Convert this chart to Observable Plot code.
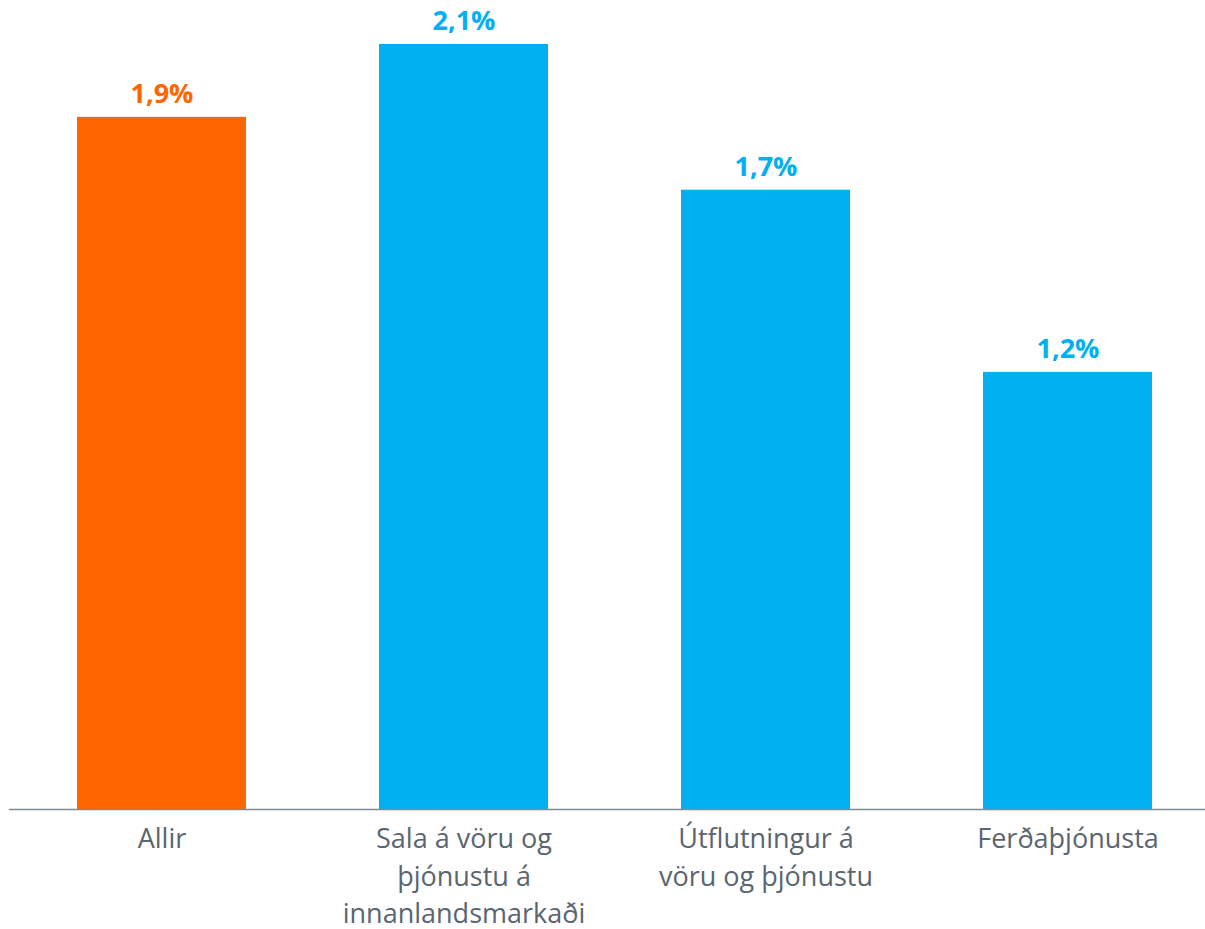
<!DOCTYPE html>
<html><head><meta charset="utf-8">
<script src="https://cdn.jsdelivr.net/npm/d3@7"></script>
<script src="https://cdn.jsdelivr.net/npm/@observablehq/plot@0.6"></script>
<style>body{margin:0;background:#fff}</style>
</head><body><div id="chart"></div>
<script>
const categories = ["Allir", "Sala á vöru og\nþjónustu á\ninnanlandsmarkaði", "Útflutningur á\nvöru og þjónustu", "Ferðaþjónusta"];
const values = [1.9, 2.1, 1.7, 1.2];
const valueLabels = ["1,9%", "2,1%", "1,7%", "1,2%"];
const barColors = ["#FF6600", "#00B0F0", "#00B0F0", "#00B0F0"];
const data = categories.map((c, i) => ({c, v: values[i], lab: valueLabels[i], col: barColors[i]}));
const font = "'Open Sans', sans-serif";
const chart = Plot.plot({
  width: 1205, height: 929,
  marginLeft: 9, marginRight: 0, marginTop: 0, marginBottom: 120,
  style: {fontFamily: font, background: "#fff"},
  x: {domain: categories, range: [9, 1220], paddingInner: 0.442, paddingOuter: 0.221, axis: null},
  y: {domain: [0, 2.1], range: [809, 44], axis: null},
  marks: [
    Plot.barY(data, {x: "c", y: "v", fill: d => d.col}),
    Plot.ruleY([0], {stroke: "#7f8a94", strokeWidth: 1.5}),
    Plot.text(data, {x: "c", y: "v", text: "lab", fill: d => d.col, dy: -23, fontSize: 27, fontWeight: "bold", fontFamily: font}),
    Plot.text(data, {x: "c", y: 0, text: "c", fill: "#596570", fontSize: 27, lineAnchor: "top", lineHeight: 1.39, dy: 12, fontFamily: font})
  ]
});
document.getElementById("chart").append(chart);
</script></body></html>
